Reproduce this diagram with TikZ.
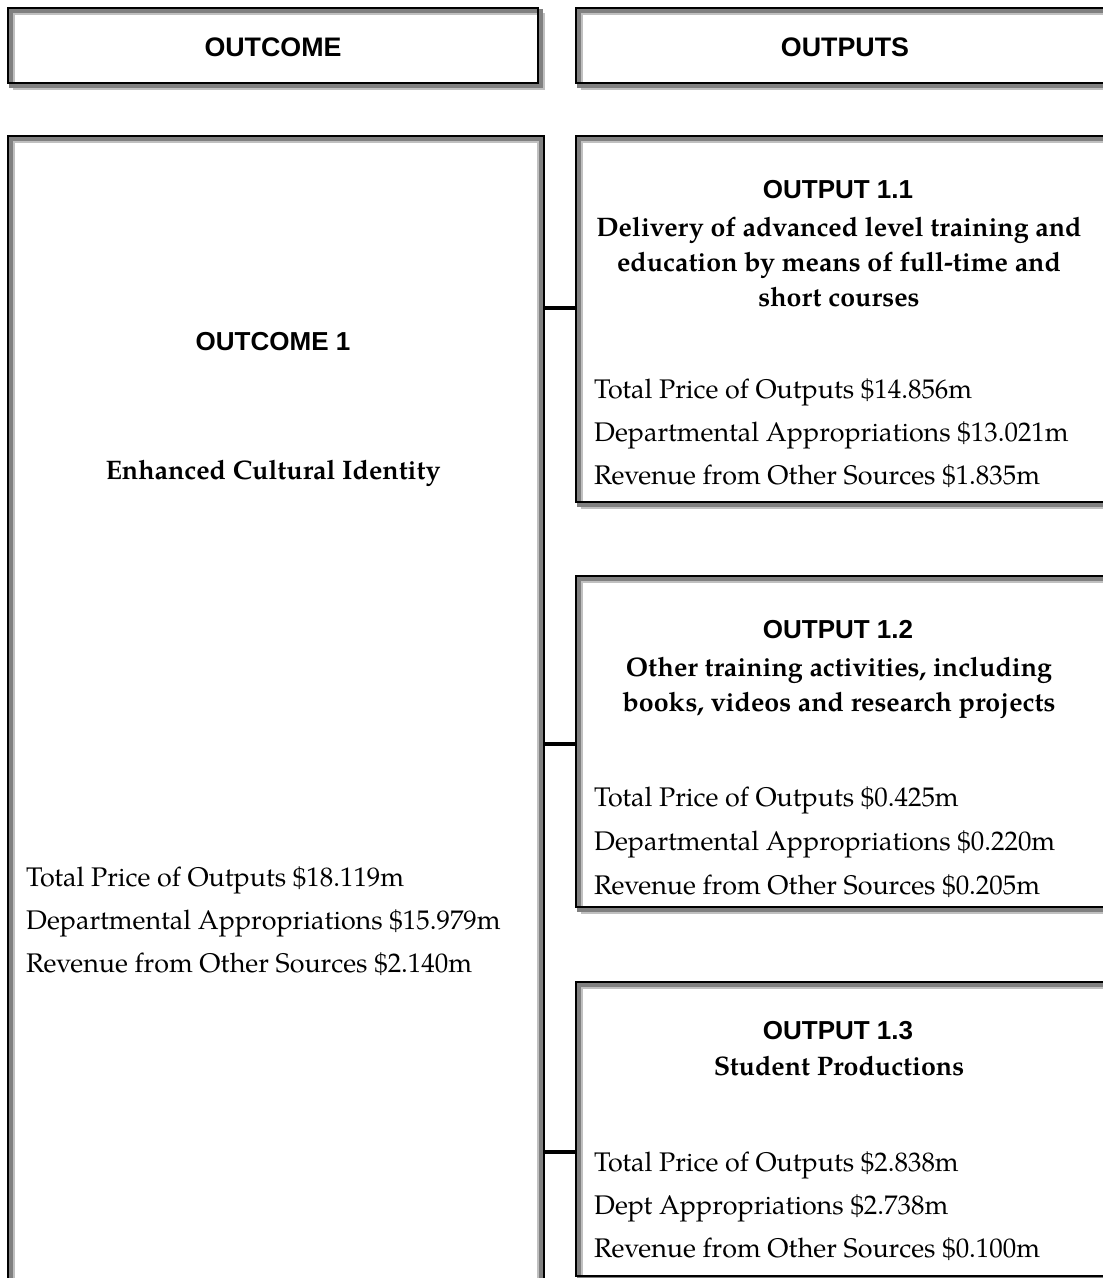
\documentclass[tikz,border=0pt]{standalone}
\usepackage{fontspec}
\setmainfont{TeX Gyre Pagella}
\newfontfamily\hdrfont{Liberation Sans}
\definecolor{frgray}{RGB}{128,128,128}
\definecolor{frlight}{RGB}{192,192,192}
\newcommand\shadowfr[1]{%
 \draw[frlight,line width=2pt] ([shift={(7,7)}]#1.north west) rectangle ([shift={(5,5)}]#1.south east);
 \draw[frgray,line width=4pt] ([shift={(4,4)}]#1.north west) rectangle ([shift={(2,2)}]#1.south east);
 \draw[black,line width=2pt] ([shift={(1,1)}]#1.north west) rectangle ([shift={(-1,-1)}]#1.south east);}
\newcommand\insetfr[1]{%
 \draw[frlight,line width=2pt] ([shift={(7,7)}]#1.north west) rectangle ([shift={(-7,-7)}]#1.south east);
 \draw[frgray,line width=4pt] ([shift={(4,4)}]#1.north west) rectangle ([shift={(-4,-4)}]#1.south east);
 \draw[black,line width=2pt] ([shift={(1,1)}]#1.north west) rectangle ([shift={(-1,-1)}]#1.south east);}
\tikzset{
 boxnode/.style={draw=none,inner sep=0pt,outer sep=0pt},
 hd/.style={font=\hdrfont\bfseries\fontsize{26}{30}\selectfont,inner sep=0pt,anchor=base},
 hdtop/.style={hd,font=\hdrfont\bfseries\fontsize{26.8}{30}\selectfont},
 bt/.style={font=\bfseries\fontsize{26.8}{33}\selectfont,inner sep=0pt,anchor=base},
 rt/.style={font=\fontsize{26.9}{33}\selectfont,inner sep=0pt,anchor=base west},
 conn/.style={draw=black,line width=3.5pt}
}
\begin{document}
\begin{tikzpicture}[x=1pt,y=-1pt]
\useasboundingbox (0,0) rectangle (1103,1278);
\clip (0,0) rectangle (1103,1278);
\fill[white] (0,0) rectangle (1103,1278);
% boxes
\node[boxnode,minimum width=532pt,minimum height=77pt] (hdrL) at (273,45.5) {};
\node[boxnode,minimum width=540pt,minimum height=77pt] (hdrR) at (845,45.5) {};
\node[boxnode,minimum width=538pt,minimum height=1185pt] (outc) at (276,727.5) {};
\node[boxnode,minimum width=535pt,minimum height=368pt] (out1) at (842.5,319) {};
\node[boxnode,minimum width=535pt,minimum height=333pt] (out2) at (842.5,741.5) {};
\node[boxnode,minimum width=535pt,minimum height=296pt] (out3) at (842.5,1129) {};
\shadowfr{hdrL}
\shadowfr{hdrR}
\insetfr{outc}
\shadowfr{out1}
\shadowfr{out2}
\shadowfr{out3}
% connectors
\coordinate (j1) at (560,308);
\coordinate (j2) at (560,744);
\coordinate (j3) at (560,1152);
\draw[conn] (outc.east |- j1) -- (out1.west |- j1);
\draw[conn] (outc.east |- j2) -- (out2.west |- j2);
\draw[conn] (outc.east |- j3) -- (out3.west |- j3);
% header texts
\node[hdtop] (tH1) at (273,56) {OUTCOME};
\node[hdtop] (tH2) at (845,56) {OUTPUTS};
% outcome text
\node[hd] (tO1) at (273,350) {OUTCOME 1};
\node[bt] (tO2) at (273,479) {Enhanced Cultural Identity};
\node[rt] (tO3) at (26,886) {Total Price of Outputs \$18.119m};
\node[rt] (tO4) at (26,929) {Departmental Appropriations \$15.979m};
\node[rt] (tO5) at (26,972) {Revenue from Other Sources \$2.140m};
% output 1.1
\node[hd] (a1) at (838,198) {OUTPUT 1.1};
\node[bt] (a2) at (839,236) {Delivery of advanced level training and};
\node[bt] (a3) at (839,271) {education by means of full-time and};
\node[bt] (a4) at (839,306) {short courses};
\node[rt] (a5) at (594,398) {Total Price of Outputs \$14.856m};
\node[rt] (a6) at (594,441) {Departmental Appropriations \$13.021m};
\node[rt] (a7) at (594,484) {Revenue from Other Sources \$1.835m};
% output 1.2
\node[hd] (b1) at (838,638) {OUTPUT 1.2};
\node[bt] (b2) at (839,676) {Other training activities, including};
\node[bt] (b3) at (839,711) {books, videos and research projects};
\node[rt] (b5) at (594,806) {Total Price of Outputs \$0.425m};
\node[rt] (b6) at (594,850) {Departmental Appropriations \$0.220m};
\node[rt] (b7) at (594,894) {Revenue from Other Sources \$0.205m};
% output 1.3
\node[hd] (c1) at (838,1039) {OUTPUT 1.3};
\node[bt] (c2) at (839,1075) {Student Productions};
\node[rt] (c5) at (594,1171) {Total Price of Outputs \$2.838m};
\node[rt] (c6) at (594,1214) {Dept Appropriations \$2.738m};
\node[rt] (c7) at (594,1257) {Revenue from Other Sources \$0.100m};
\end{tikzpicture}
\end{document}
